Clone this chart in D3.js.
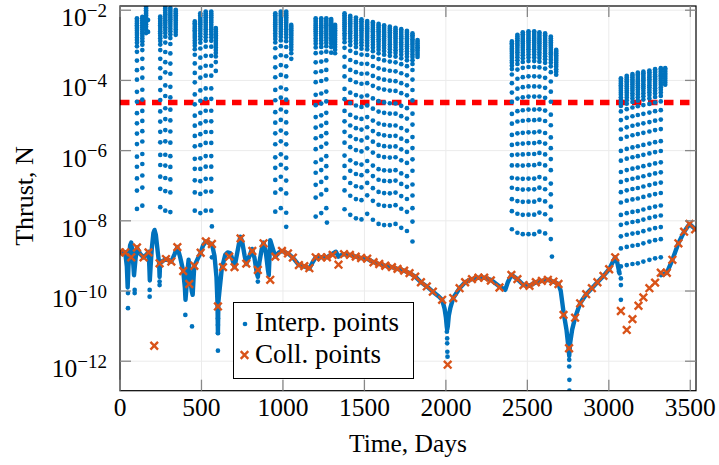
<!DOCTYPE html>
<html>
<head>
<meta charset="utf-8">
<script src="https://cdn.jsdelivr.net/npm/d3@7/dist/d3.min.js"></script>
<style>
body { margin: 0; background: #fff; }
text { font-family: "Liberation Serif", "Times New Roman", serif; fill: #000; }
</style>
</head>
<body>
<svg id="chart" width="719" height="465"></svg>
<script>
// values, thrust given as log10(N)

// collocation points [day, log10 thrust]
var collPoints = [
  [0,-8.90],[32,-8.90],[69,-9.04],[104,-8.76],[145,-9.04],[175,-8.90],[210,-11.56],[243,-9.21],
  [282,-9.09],[315,-9.16],[352,-8.75],[388,-9.43],[425,-9.80],[456,-9.28],[495,-8.91],[527,-8.59],
  [564,-8.66],[601,-10.44],[632,-9.32],[670,-9.02],[703,-9.32],[740,-8.50],[775,-9.22],[812,-8.86],
  [846,-9.40],[881,-8.64],[922,-9.68],[953,-9.02],[994,-8.86],[1031,-8.93],[1061,-9.05],[1098,-9.26],
  [1131,-9.29],[1162,-9.35],[1201,-9.04],[1236,-9.04],[1270,-9.04],[1305,-8.97],[1341,-9.25],[1375,-8.95],
  [1411,-8.97],[1447,-9.02],[1480,-9.06],[1517,-9.08],[1556,-9.18],[1591,-9.23],[1628,-9.28],[1669,-9.32],
  [1703,-9.37],[1744,-9.42],[1777,-9.49],[1812,-9.59],[1847,-9.75],[1883,-9.87],[1920,-10.02],[1977,-10.25],
  [2011,-12.10],[2045,-10.20],[2084,-9.92],[2118,-9.75],[2160,-9.66],[2200,-9.62],[2235,-9.62],[2276,-9.70],
  [2329,-9.90],[2402,-9.54],[2439,-9.66],[2476,-9.83],[2513,-9.85],[2552,-9.75],[2589,-9.71],[2626,-9.68],
  [2660,-9.73],[2691,-9.80],[2722,-10.68],[2756,-11.63],[2793,-10.76],[2824,-10.35],[2861,-10.09],[2896,-9.92],
  [2930,-9.75],[2967,-9.57],[3002,-9.38],[3039,-9.04],[3074,-10.57],[3110,-11.11],[3145,-10.80],[3182,-10.42],
  [3212,-10.18],[3249,-9.92],[3284,-9.76],[3319,-9.48],[3356,-9.48],[3390,-9.11],[3427,-8.64],[3462,-8.31],
  [3495,-8.09],[3530,-8.24]
];

// dense chain of interpolation points along the low-thrust arcs (null = gap)
var baseCurve = [
  [0,-8.90],[20,-8.88],[32,-8.90],[42,-9.3],[47,-9.9],[52,-9.3],[62,-8.7],[69,-8.62],[78,-9.0],[86,-9.55],
  [95,-9.1],[104,-8.76],[125,-8.95],[145,-9.04],[165,-8.95],[176,-8.88],[180,-9.3],[183,-9.7],[188,-9.3],
  [195,-8.8],[205,-8.35],[212,-8.26],[220,-8.4],[232,-8.9],[240,-9.2],[243,-9.6],[246,-9.2],[260,-9.15],
  [282,-9.09],[300,-9.12],[315,-9.16],[335,-8.95],[352,-8.75],[370,-9.05],[388,-9.43],[398,-9.9],[402,-10.25],
  [408,-9.9],[415,-9.4],[421,-9.11],[428,-9.5],[440,-10.0],[446,-10.11],[452,-9.6],[456,-9.29],[475,-9.1],
  [495,-8.91],[510,-8.7],[527,-8.59],[545,-8.62],[564,-8.66],[580,-9.0],[592,-9.6],[598,-10.3],[601,-11.2],
  [604,-10.3],[611,-9.97],[625,-9.35],[646,-8.97],[660,-8.9],[677,-8.92],[690,-9.1],[703,-9.32],[720,-8.9],
  [738,-8.45],[750,-8.6],[765,-9.0],[775,-9.23],[795,-9.0],[810,-8.8],[825,-9.05],[840,-9.5],[846,-9.6],
  [855,-9.2],[870,-8.8],[881,-8.62],[895,-8.9],[908,-9.4],[913,-9.55],[918,-9.0],[922,-8.55],[935,-8.75],
  [953,-9.02],[975,-8.9],[994,-8.86],[1031,-8.93],[1061,-9.05],[1098,-9.26],[1131,-9.30],[1162,-9.36],
  [1180,-9.2],[1201,-9.04],[1236,-9.04],[1270,-9.04],[1300,-8.95],[1325,-8.88],[1341,-9.02],[1360,-8.97],
  [1375,-8.95],[1411,-8.97],[1447,-9.02],[1480,-9.06],[1517,-9.08],[1556,-9.18],[1591,-9.23],[1628,-9.28],
  [1669,-9.32],[1703,-9.37],[1744,-9.42],[1777,-9.49],[1812,-9.59],[1847,-9.75],[1883,-9.87],[1920,-10.02],
  [1955,-10.15],[1977,-10.25],[1992,-10.5],[2000,-10.75],[2005,-11.0],[2008,-11.1],[2012,-11.0],[2018,-10.7],
  [2027,-10.49],[2045,-10.20],[2084,-9.92],[2118,-9.75],[2160,-9.66],[2200,-9.62],[2235,-9.62],[2276,-9.68],
  [2329,-9.87],[2364,-9.97],[2380,-9.75],[2402,-9.54],[2439,-9.66],[2476,-9.83],[2513,-9.85],[2552,-9.75],
  [2589,-9.71],[2626,-9.68],[2660,-9.73],[2691,-9.80],[2705,-10.0],[2722,-10.6],[2740,-11.1],[2752,-11.6],
  [2757,-11.85],[2762,-11.5],[2775,-11.1],[2793,-10.76],[2824,-10.35],[2861,-10.09],[2896,-9.92],[2930,-9.75],
  [2967,-9.57],[3002,-9.38],[3039,-9.04],[3050,-9.15],[3059,-9.35],[3066,-9.5],
  null,
  [3320,-9.55],[3356,-9.48],[3390,-9.11],[3427,-8.64],[3462,-8.31],[3495,-8.09],[3530,-8.24]
];

// burn-arc columns: [day, top log10, bottom log10, fraction of column shown]
var burnColumns = [
  [104,-2.23,-7.66,1],[137,-2.19,-7.57,1],[160,-1.85,-7.3,0.15],
  [247,-2.18,-7.61,1],[278,-1.90,-7.71,1],[309,-1.94,-7.75,1],[342,-1.99,-7.5,0.13],
  [459,-2.32,-7.71,1],[493,-2.09,-7.78,1],[526,-2.04,-7.71,1],[560,-2.04,-7.71,1],[588,-2.51,-8.0,0.27],
  [953,-2.09,-7.74,1],[987,-2.04,-7.64,1],[1020,-2.04,-7.77,1],[1051,-2.42,-7.9,0.18],
  [1201,-2.23,-7.88,1],[1235,-2.23,-7.78,1],[1266,-2.23,-7.64,1],[1296,-2.25,-7.7,0.2],[1320,-2.42,-7.9,0.17],
  [1378,-2.09,-7.67,1],[1413,-2.16,-7.83,1],[1448,-2.21,-7.93,1],[1482,-2.26,-7.96,1],[1517,-2.31,-7.80,1],
  [1552,-2.34,-7.97,1],[1587,-2.39,-8.09,1],[1621,-2.43,-8.12,1],[1656,-2.47,-8.12,1],[1691,-2.50,-8.09,1],
  [1726,-2.54,-8.20,1],[1761,-2.59,-8.29,1],[1795,-2.66,-8.59,1],[1826,-2.85,-8.3,0.09],
  [2405,-2.89,-8.24,1],[2439,-2.70,-8.34,1],[2472,-2.63,-8.38,1],[2507,-2.60,-8.38,1],[2542,-2.60,-8.38,1],
  [2574,-2.63,-8.31,1],[2609,-2.66,-8.36,1],[2644,-2.75,-8.52,1],[2677,-3.13,-8.6,0.14],
  [3074,-3.94,-9.30,1],[3110,-3.87,-9.26,1],[3145,-3.82,-9.23,1],[3178,-3.78,-9.21,1],[3212,-3.75,-9.16,1],
  [3249,-3.72,-9.11,1],[3284,-3.68,-9.07,1],[3319,-3.65,-9.04,1],[3346,-3.65,-9.0,0.1]
];

// where the dots of one column sit, as a fraction of the column height (from one column)
var columnProfile = [0,0.009,0.018,0.028,0.037,0.046,0.055,0.066,0.077,0.088,0.101,0.114,0.129,0.147,
  0.176,0.222,0.272,0.322,0.386,0.438,0.498,0.551,0.605,0.660,0.726,0.779,0.840,0.904,1.0];

// single interpolation dots off the main curves [day, log10 thrust]
var extraDots = [
  [172,-2.28],[172,-2.62],[49,-10.06],[49,-10.49],[90,-9.97],[90,-10.06],[182,-9.97],[182,-10.16],
  [243,-9.73],[243,-9.83],[401,-10.68],[442,-11.01],[564,-9.04],[564,-8.16],[601,-10.54],[601,-10.78],
  [601,-10.97],[601,-11.2],[601,-11.70],[846,-9.73],[1020,-8.17],[1270,-8.05],[2006,-11.16],[2008,-11.35],
  [2008,-11.49],[2009,-11.73],[2010,-11.87],[2651,-9.02],[2757,-11.96],[2757,-12.15],[2758,-12.53],
  [2758,-12.84],[3062,-9.45],[3074,-9.64],[3074,-9.83],[3074,-10.25]
];

var thrustLimit = 2.35e-5;
var xTicks = [0, 500, 1000, 1500, 2000, 2500, 3000, 3500];
var yTickExps = [-12, -10, -8, -6, -4, -2];

var blue = "#0072bd", orange = "#d95319";

var svg = d3.select("#chart");
var margin = {left: 120, top: 6, right: 23, bottom: 74.3};
var width = 719 - margin.left - margin.right;
var height = 465 - margin.top - margin.bottom;

var x = d3.scaleLinear().domain([0, 3535]).range([0, width]);
var y = d3.scaleLog().domain([Math.pow(10, -12.84), Math.pow(10, -1.88)]).range([height, 0]);
function yl(v) { return y(Math.pow(10, v)); }

var g = svg.append("g").attr("transform", "translate(" + margin.left + "," + margin.top + ")");

svg.append("defs").append("clipPath").attr("id", "clip")
  .append("rect").attr("width", width).attr("height", height);

// grid
g.selectAll(".gx").data(xTicks).enter().append("line")
  .attr("x1", function(d){ return x(d); }).attr("x2", function(d){ return x(d); })
  .attr("y1", 0).attr("y2", height)
  .attr("stroke", "#ebebeb").attr("stroke-width", 1);
g.selectAll(".gy").data(yTickExps).enter().append("line")
  .attr("x1", 0).attr("x2", width)
  .attr("y1", function(d){ return yl(d); }).attr("y2", function(d){ return yl(d); })
  .attr("stroke", "#ebebeb").attr("stroke-width", 1);

var plot = g.append("g").attr("clip-path", "url(#clip)");

// thrust limit
plot.append("line")
  .attr("x1", 0).attr("x2", width)
  .attr("y1", y(thrustLimit)).attr("y2", y(thrustLimit))
  .attr("stroke", "#ff0000").attr("stroke-width", 5.5)
  .attr("stroke-dasharray", "9.5,6.5");

// interpolation points: dense chain
var line = d3.line()
  .defined(function(d){ return d !== null; })
  .x(function(d){ return x(d[0]); })
  .y(function(d){ return yl(d[1]); });
plot.append("path").datum(baseCurve)
  .attr("d", line)
  .attr("fill", "none").attr("stroke", blue)
  .attr("stroke-width", 4.4).attr("stroke-linejoin", "round").attr("stroke-linecap", "round");

// interpolation points: burn columns
var burnDots = [];
burnColumns.forEach(function(c){
  var span = c[1] - c[2];
  columnProfile.forEach(function(f){
    if (f <= c[3] + 1e-9) burnDots.push([c[0], c[1] - f * span]);
  });
});
plot.selectAll(".burn").data(burnDots.concat(extraDots)).enter().append("circle")
  .attr("cx", function(d){ return x(d[0]); })
  .attr("cy", function(d){ return yl(d[1]); })
  .attr("r", 2.35).attr("fill", blue);

// collocation points
var cs = 3.8;
function crossPath(px, py) {
  return "M" + (px - cs) + "," + (py - cs) + "L" + (px + cs) + "," + (py + cs) +
         "M" + (px - cs) + "," + (py + cs) + "L" + (px + cs) + "," + (py - cs);
}
plot.selectAll(".coll").data(collPoints).enter().append("path")
  .attr("d", function(d){ return crossPath(x(d[0]), yl(d[1])); })
  .attr("stroke", orange).attr("stroke-width", 2.4).attr("fill", "none");

// frame and ticks
g.append("rect").attr("width", width).attr("height", height)
  .attr("fill", "none").attr("stroke", "#000").attr("stroke-width", 1.2);
var tl = 11, tickCol = "#888";
xTicks.forEach(function(d){
  g.append("line").attr("x1", x(d)).attr("x2", x(d)).attr("y1", height).attr("y2", height - tl)
    .attr("stroke", tickCol).attr("stroke-width", 1.3);
  g.append("line").attr("x1", x(d)).attr("x2", x(d)).attr("y1", 0).attr("y2", tl)
    .attr("stroke", tickCol).attr("stroke-width", 1.3);
  g.append("text").attr("x", x(d)).attr("y", height + 25)
    .attr("text-anchor", "middle").attr("font-size", 25.5).text(d);
});
yTickExps.forEach(function(e){
  g.append("line").attr("x1", 0).attr("x2", tl).attr("y1", yl(e)).attr("y2", yl(e))
    .attr("stroke", tickCol).attr("stroke-width", 1.3);
  g.append("line").attr("x1", width).attr("x2", width - tl).attr("y1", yl(e)).attr("y2", yl(e))
    .attr("stroke", tickCol).attr("stroke-width", 1.3);
  var t = g.append("text").attr("x", -13).attr("y", yl(e) + 16)
    .attr("text-anchor", "end").attr("font-size", 25.5);
  t.append("tspan").text("10");
  t.append("tspan").attr("font-size", 19).attr("dy", -9.4).text("\u2212" + (-e));
});

// axis titles
svg.append("text").attr("x", margin.left + width / 2).attr("y", 452)
  .attr("text-anchor", "middle").attr("font-size", 25.5).text("Time, Days");
svg.append("text").attr("transform", "translate(33,196) rotate(-90)")
  .attr("text-anchor", "middle").attr("font-size", 26).text("Thrust, N");

// legend
var lg = svg.append("g");
lg.append("rect").attr("x", 233.5).attr("y", 302.5).attr("width", 180).attr("height", 76)
  .attr("fill", "#fff").attr("stroke", "#000").attr("stroke-width", 1);
lg.append("circle").attr("cx", 245).attr("cy", 324).attr("r", 2.35).attr("fill", blue);
lg.append("text").attr("x", 255).attr("y", 331).attr("font-size", 27).text("Interp. points");
lg.append("path").attr("d", crossPath(244.5, 355))
  .attr("stroke", orange).attr("stroke-width", 2.4).attr("fill", "none");
lg.append("text").attr("x", 255).attr("y", 363).attr("font-size", 27).text("Coll. points");
</script>
</body>
</html>
